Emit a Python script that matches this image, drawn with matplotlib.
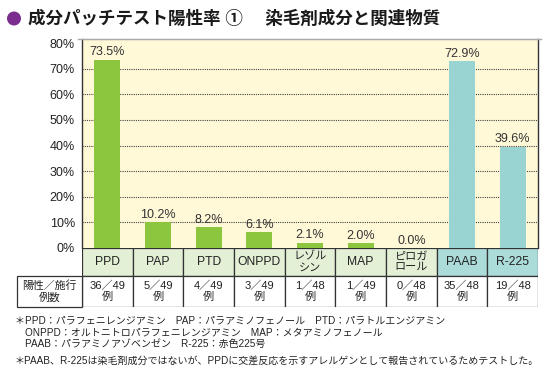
import matplotlib
matplotlib.use('Agg')
import matplotlib.pyplot as plt
from matplotlib.patches import Rectangle, Ellipse
from matplotlib.lines import Line2D

plt.rcParams['font.family'] = ['Liberation Sans', 'Noto Sans CJK JP', 'DejaVu Sans']

# data
categories = ['PPD', 'PAP', 'PTD', 'ONPPD', 'レゾル\nシン', 'MAP', 'ピロガ\nロール', 'PAAB', 'R-225']
values = [73.5, 10.2, 8.2, 6.1, 2.1, 2.0, 0.0, 72.9, 39.6]
positives = [36, 5, 4, 3, 1, 1, 0, 35, 19]
totals = [49, 49, 49, 49, 48, 49, 48, 48, 48]
is_related = [False] * 7 + [True] * 2
yticks = [0, 10, 20, 30, 40, 50, 60, 70, 80]

title = '成分パッチテスト陽性率 ①　 染毛剤成分と関連物質'
notes = [
    '＊PPD：パラフェニレンジアミン　PAP：パラアミノフェノール　PTD：パラトルエンジアミン',
    '　ONPPD：オルトニトロパラフェニレンジアミン　MAP：メタアミノフェノール',
    '　PAAB：パラアミノアゾベンゼン　R-225：赤色225号',
    '＊PAAB、R-225は染毛剤成分ではないが、PPDに交差反応を示すアレルゲンとして報告されているためテストした。',
]

green = '#8cc63f'
teal = '#99d4d2'
green_cell = '#e3f0d6'
teal_cell = '#acdcda'
cream = '#fff9d8'
edge = '#333333'

W, H = 545, 376
fig = plt.figure(figsize=(W / 100, H / 100), dpi=100)

def fx(px):
    return px / W

def fy(py):
    return 1 - py / H

# main axes: x 82..538, y 39..248
ax = fig.add_axes([fx(82), fy(248), fx(538 - 82), fy(39) - fy(248)])
ax.set_facecolor(cream)
x = list(range(len(categories)))
colors = [teal if r else green for r in is_related]
ax.bar(x, values, width=0.51, color=colors, zorder=3)
ax.set_xlim(-0.5, len(categories) - 0.5)
ax.set_ylim(0, 81.6)
ax.set_yticks(yticks)
ax.set_yticklabels([f'{t}%' for t in yticks], fontsize=9, color='#222222')
ax.tick_params(axis='y', length=0, pad=5)
ax.set_xticks([])
for t in yticks[1:-1]:
    ax.axhline(t, color='#444444', lw=0.8, ls=(0, (1, 1)), zorder=1)
for xi, v in zip(x, values):
    ax.text(xi, v + 0.5, f'{v:.1f}%', ha='center', va='bottom', fontsize=9,
            color='#333333', zorder=4)
for s in ['left', 'right']:
    ax.spines[s].set_color(edge)
    ax.spines[s].set_linewidth(1.0)
ax.spines['top'].set_color('#999999')
ax.spines['bottom'].set_visible(False)

# table axes: rows below the plot, y 248..307
tab = fig.add_axes([fx(82), fy(307), fx(538 - 82), fy(248) - fy(307)])
tab.set_xlim(-0.5, len(categories) - 0.5)
tab.set_ylim(0, 59)
tab.axis('off')
cw = 50.67  # px per category
lab_left = -0.5 - (82 - 17) / cw
for xi, cat, rel, p, n in zip(x, categories, is_related, positives, totals):
    tab.add_patch(Rectangle((xi - 0.5, 31), 1, 28, facecolor=teal_cell if rel else green_cell,
                            edgecolor=edge, lw=0.9))
    tab.add_patch(Rectangle((xi - 0.5, 0), 1, 31, facecolor='white', edgecolor=edge, lw=0.9))
    fs = 8.7 if '\n' not in cat else 8
    tab.text(xi, 45, cat, ha='center', va='center', fontsize=fs, color='#222222',
             linespacing=1.05)
    tab.text(xi, 15.5, f'{p}／{n}\n例', ha='center', va='center', fontsize=8,
             color='#222222', linespacing=1.1)
tab.add_patch(Rectangle((lab_left, 0), -0.5 - lab_left, 31, facecolor='white',
                        edgecolor=edge, lw=0.9, clip_on=False))
tab.text((lab_left - 0.5) / 2, 15.5, '陽性／施行\n例数', ha='center', va='center',
         fontsize=7.8, color='#222222', linespacing=1.15, clip_on=False)

# title
fig.patches.append(Ellipse((fx(14), fy(18.5)), width=14 / W, height=14 / H,
                           transform=fig.transFigure, facecolor='#7a2d8f', edgecolor='none'))
fig.text(fx(28), fy(18), title, ha='left', va='center', fontsize=12.6,
         fontweight='bold', color='#1a1a1a')
fig.lines.append(Line2D([fx(78), fx(541)], [fy(38.5), fy(38.5)], transform=fig.transFigure,
                        color='#aaaaaa', lw=1.0))

# notes
for txt, py in zip(notes, [320, 332, 344, 361]):
    fig.text(fx(15), fy(py), txt, ha='left', va='center', fontsize=7.2, color='#222222')

fig.savefig('out.png', dpi=100)
